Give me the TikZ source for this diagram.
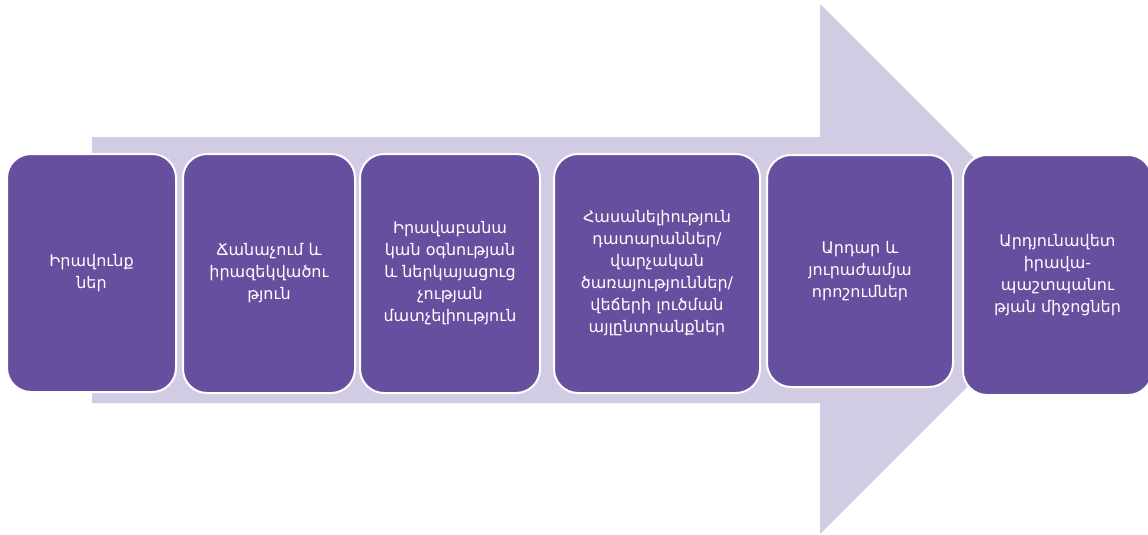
\documentclass[tikz,border=0pt]{standalone}
\usepackage{fontspec}
\setmainfont{DejaVu Sans}
\definecolor{boxfill}{RGB}{103,79,160}
\definecolor{arrowfill}{RGB}{210,203,228}
\begin{document}
\begin{tikzpicture}[x=1pt,y=-1pt,
  stagebox/.style={draw=white, line width=2pt, fill=boxfill, rounded corners=24pt,
    text=white, align=center, inner sep=2pt,
    font=\fontsize{16}{22}\selectfont}]
\useasboundingbox (0,0) rectangle (1148,535);
\fill[arrowfill] (92,137) -- (820,137) -- (820,4) -- (1085,269) -- (820,534) -- (820,403) -- (92,403) -- cycle;
\node[stagebox, minimum width=169pt, minimum height=238pt] (b1) at (91.5,273) {Իրավունք\\ներ};
\node[stagebox, minimum width=172pt, minimum height=239pt] (b2) at (269,273.5) {Ճանաչում և\\իրազեկվածու\\թյուն};
\node[stagebox, minimum width=180pt, minimum height=239pt] (b3) at (450,273.5) {Իրավաբանա\\կան օգնության\\և ներկայացուց\\չության\\մատչելիություն};
\node[stagebox, minimum width=206pt, minimum height=239pt] (b4) at (657,273.5) {Հասանելիություն\\դատարաններ/\\վարչական\\ծառայություններ/\\վեճերի լուծման\\այլընտրանքներ};
\node[stagebox, minimum width=186pt, minimum height=232pt] (b5) at (860,271) {Արդար և\\յուրաժամյա\\որոշումներ};
\node[stagebox, minimum width=189pt, minimum height=240pt] (b6) at (1057.5,275) {Արդյունավետ\\իրավա-\\պաշտպանու\\թյան միջոցներ};
\end{tikzpicture}
\end{document}
